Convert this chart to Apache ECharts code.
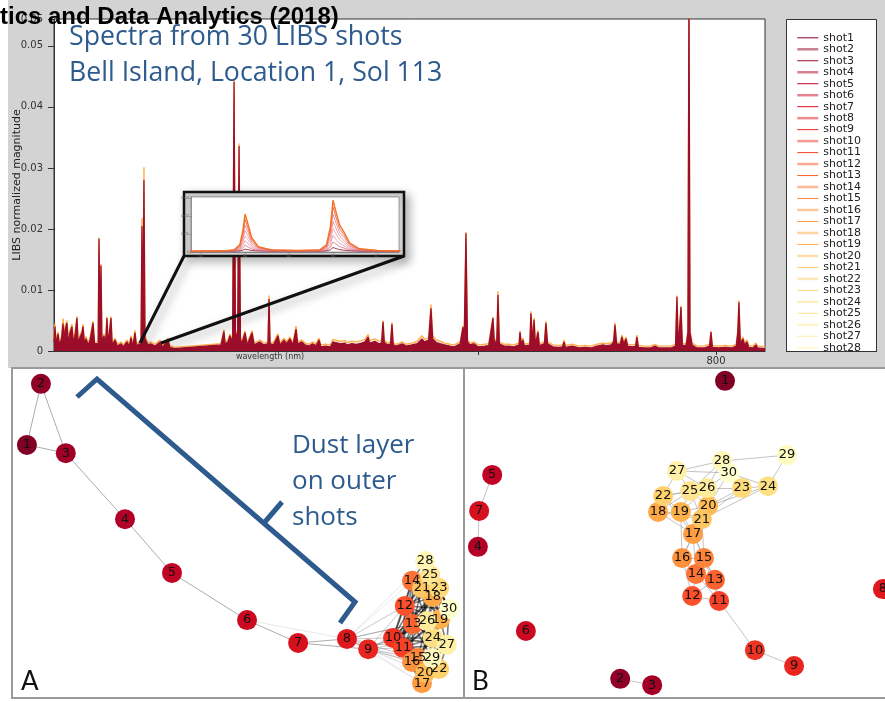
<!DOCTYPE html>
<html><head><meta charset="utf-8">
<script src="https://cdn.jsdelivr.net/npm/echarts@6/dist/echarts.min.js"></script>
<style>html,body{margin:0;padding:0;background:#fff}#c{width:885px;height:702px}</style>
</head><body><div id="c"></div>
<script>
// ---------------- DATA ----------------
const shotNames = ['shot1','shot2','shot3','shot4','shot5','shot6','shot7','shot8','shot9','shot10',
 'shot11','shot12','shot13','shot14','shot15','shot16','shot17','shot18','shot19','shot20',
 'shot21','shot22','shot23','shot24','shot25','shot26','shot27','shot28','shot29','shot30'];

const wavelengths = [243.7,244.5,245.5,247.1,248.3,250.0,251.3,252.3,253.0,254.6,
255.8,257.1,258.8,260.0,261.3,263.0,264.0,265.5,267.2,268.1,
269.3,270.6,272.5,274.0,276.5,277.8,279.0,280.8,281.5,282.3,
283.2,284.0,285.7,287.0,288.2,289.2,291.6,292.6,295.0,297.0,
300.0,302.0,305.0,307.0,308.4,310.0,311.8,313.0,315.1,316.8,
317.6,318.4,319.3,320.2,322.7,325.0,328.6,332.8,335.0,337.0,
339.5,341.0,345.0,384.0,386.5,387.5,389.9,391.5,393.8,395.0,
396.2,398.0,399.2,400.4,401.5,404.2,406.0,410.1,412.0,416.8,
420.0,423.5,424.4,425.3,428.0,431.9,433.5,437.0,439.0,442.0,
444.5,447.1,448.5,452.0,454.6,458.0,461.0,464.0,466.4,468.0,
472.0,476.0,478.2,480.0,484.0,488.0,490.0,494.0,498.0,502.0,
505.0,507.6,509.0,513.4,517.0,519.0,520.2,521.3,524.4,526.5,
527.7,528.8,531.1,534.0,536.1,540.0,544.5,549.0,552.9,555.0,
558.5,560.5,562.0,565.0,568.1,572.0,576.5,580.0,585.0,587.4,
588.4,589.9,591.2,593.3,596.6,600.0,605.9,609.0,610.5,612.6,
613.8,615.8,616.8,618.0,622.0,626.0,630.0,634.5,635.3,636.5,
637.8,639.0,643.5,644.5,645.8,647.1,648.3,650.4,651.6,655.8,
657.1,658.5,660.0,663.0,668.0,671.0,672.3,673.5,679.0,685.0,
690.0,695.0,700.0,705.0,708.0,712.0,714.0,715.1,716.5,719.5,
721.0,722.5,724.4,725.8,730.0,732.4,733.6,734.8,740.0,745.0,
748.7,752.0,757.0,762.0,766.0,767.2,768.4,769.6,770.6,771.8,
775.0,776.4,777.3,778.2,780.0,784.0,790.0,794.6,795.8,797.0,
802.0,808.0,813.0,817.0,818.3,819.3,820.5,822.7,824.0,826.1,
827.5,831.0,833.6,835.0,841.2];

const shot3Spectrum = [.0015,.0040,.0012,.0028,.0010,.0020,.0045,.0015,.0035,.0046,
.0012,.0030,.0040,.0014,.0025,.0054,.0013,.0022,.0030,.0040,
.0012,.0020,.0010,.0018,.0046,.0012,.0015,.0012,.0184,.0050,
.0140,.0015,.0025,.0012,.0054,.0012,.0054,.0010,.0018,.0008,
.0012,.0007,.0015,.0008,.0022,.0008,.0030,.0008,.0012,.0010,
.0205,.0060,.0280,.0020,.0010,.0012,.0008,.0015,.0006,.0012,
.0018,.0006,.0004,.0010,.0032,.0012,.0015,.0025,.0015,.0441,
.0030,.0025,.0336,.0020,.0012,.0030,.0010,.0030,.0010,.0015,
.0010,.0012,.0085,.0012,.0010,.0025,.0010,.0018,.0012,.0020,
.0010,.0036,.0012,.0015,.0010,.0008,.0012,.0009,.0018,.0007,
.0008,.0007,.0015,.0014,.0012,.0013,.0010,.0012,.0011,.0013,
.0015,.0023,.0013,.0016,.0012,.0014,.0048,.0014,.0010,.0012,
.0044,.0010,.0008,.0010,.0012,.0008,.0010,.0012,.0020,.0015,
.0018,.0070,.0020,.0014,.0012,.0010,.0008,.0007,.0012,.0039,
.0020,.0193,.0015,.0010,.0012,.0007,.0008,.0009,.0012,.0054,
.0012,.0018,.0092,.0012,.0008,.0008,.0007,.0010,.0031,.0010,
.0018,.0008,.0010,.0062,.0015,.0051,.0010,.0031,.0009,.0012,
.0046,.0012,.0010,.0007,.0006,.0007,.0015,.0006,.0008,.0005,
.0006,.0005,.0008,.0010,.0009,.0010,.0015,.0043,.0012,.0011,
.0023,.0012,.0020,.0008,.0007,.0008,.0023,.0006,.0005,.0005,
.0008,.0005,.0005,.0005,.0008,.0089,.0008,.0010,.0072,.0008,
.0010,.0030,.0600,.0030,.0010,.0005,.0005,.0008,.0031,.0006,
.0005,.0006,.0005,.0008,.0030,.0080,.0012,.0020,.0010,.0015,
.0006,.0005,.0010,.0005,.0004];

const shot19Spectrum = [.0019,.0045,.0016,.0031,.0014,.0024,.0053,.0018,.0040,.0050,
.0016,.0034,.0044,.0018,.0029,.0057,.0016,.0026,.0033,.0044,
.0015,.0024,.0013,.0022,.0049,.0015,.0018,.0015,.0186,.0053,
.0142,.0018,.0028,.0015,.0056,.0015,.0057,.0013,.0021,.0011,
.0015,.0010,.0018,.0011,.0025,.0011,.0034,.0011,.0015,.0013,
.0218,.0066,.0301,.0024,.0013,.0015,.0011,.0018,.0009,.0015,
.0021,.0009,.0006,.0012,.0035,.0015,.0018,.0028,.0018,.0446,
.0034,.0028,.0340,.0024,.0015,.0033,.0013,.0033,.0013,.0018,
.0013,.0015,.0091,.0015,.0013,.0028,.0013,.0021,.0015,.0023,
.0013,.0041,.0015,.0018,.0013,.0011,.0015,.0012,.0021,.0010,
.0011,.0010,.0019,.0018,.0016,.0017,.0014,.0016,.0015,.0017,
.0019,.0027,.0017,.0020,.0016,.0018,.0050,.0017,.0013,.0015,
.0047,.0013,.0011,.0013,.0015,.0011,.0013,.0016,.0025,.0019,
.0022,.0076,.0024,.0018,.0016,.0013,.0011,.0010,.0015,.0041,
.0023,.0195,.0018,.0013,.0015,.0010,.0011,.0012,.0015,.0056,
.0015,.0021,.0098,.0015,.0011,.0011,.0010,.0013,.0033,.0013,
.0021,.0011,.0013,.0065,.0018,.0054,.0013,.0034,.0012,.0015,
.0049,.0015,.0013,.0010,.0009,.0010,.0018,.0009,.0011,.0008,
.0009,.0008,.0011,.0013,.0012,.0013,.0018,.0046,.0015,.0014,
.0026,.0015,.0023,.0011,.0010,.0011,.0026,.0009,.0008,.0008,
.0011,.0008,.0008,.0008,.0011,.0091,.0011,.0013,.0074,.0011,
.0013,.0033,.0600,.0033,.0013,.0008,.0008,.0011,.0033,.0009,
.0008,.0009,.0008,.0011,.0033,.0083,.0015,.0023,.0013,.0018,
.0009,.0008,.0013,.0008,.0007];

const xTickValues = [600, 800];
const xLabelValues = [800];

// inset (zoom on two lines)
const insetX = [82.75,83.5,83.75,83.88,83.95,84.0,84.06,84.15,84.3,84.6,85.2,85.7,85.85,85.94,86.0,86.07,86.15,86.25,86.38,86.6,87.0,87.55];
const insetA = [.0004,.0006,.0012,.0040,.0120,.0211,.0160,.0080,.0030,.0012,.0008,.0012,.0040,.0140,.0289,.0220,.0150,.0110,.0050,.0018,.0009,.0006];
const insetB = [.0004,.0006,.0011,.0034,.0102,.0180,.0137,.0068,.0026,.0011,.0008,.0011,.0034,.0120,.0250,.0190,.0130,.0095,.0043,.0016,.0008,.0006];
const insetC = [.0004,.0005,.0010,.0028,.0085,.0150,.0114,.0057,.0022,.0010,.0007,.0010,.0028,.0100,.0210,.0160,.0109,.0080,.0036,.0014,.0008,.0005];
const insetD = [.0004,.0005,.0009,.0023,.0068,.0120,.0091,.0046,.0018,.0009,.0007,.0009,.0023,.0080,.0170,.0129,.0088,.0064,.0030,.0012,.0007,.0005];
const insetE = [.0003,.0005,.0008,.0018,.0051,.0090,.0069,.0035,.0014,.0008,.0006,.0008,.0018,.0060,.0130,.0099,.0068,.0049,.0023,.0010,.0006,.0005];
const insetF = [.0003,.0004,.0007,.0013,.0036,.0063,.0048,.0025,.0011,.0007,.0006,.0007,.0013,.0042,.0092,.0070,.0048,.0035,.0017,.0009,.0006,.0004];
const insetG = [.0003,.0004,.0006,.0009,.0022,.0038,.0029,.0016,.0008,.0006,.0005,.0006,.0009,.0026,.0056,.0043,.0030,.0022,.0011,.0007,.0005,.0004];
const insetH = [.0003,.0004,.0005,.0006,.0010,.0016,.0013,.0008,.0006,.0005,.0005,.0005,.0006,.0012,.0025,.0019,.0013,.0010,.0007,.0005,.0004,.0004];
const insetTicks = [83, 84, 85, 86, 87];

// network graphs (layout coordinates, 0-100)
const nodeIds = ['1','2','3','4','5','6','7','8','9','10','11','12','13','14','15','16','17','18','19','20','21','22','23','24','25','26','27','28','29','30'];
const layoutAx = [3.3,6.4,11.9,25.0,35.4,52.0,63.3,74.1,78.8,84.3,86.5,86.9,88.7,88.5,89.8,88.5,90.7,93.1,94.7,91.4,90.7,94.5,94.5,93.1,92.5,91.8,96.2,91.4,92.9,96.7];
const layoutAy = [76.7,95.2,74.2,54.2,37.9,23.6,16.7,17.9,14.8,18.2,15.2,27.9,22.4,35.5,12.1,10.9,4.5,30.6,23.9,7.6,33.3,8.8,33.3,18.2,37.3,23.3,16.1,41.5,12.1,27.0];
const layoutBx = [62.0,37.1,44.7,3.3,6.7,14.7,3.6,99.5,78.4,69.1,60.6,54.2,59.6,55.1,57.0,51.8,54.4,46.1,51.5,58.0,56.5,47.3,66.0,72.2,53.7,57.7,50.6,61.3,76.7,62.9];
const layoutBy = [96.1,5.8,3.9,45.8,67.6,20.3,56.7,33.0,9.7,14.5,29.4,30.9,35.8,37.6,42.4,42.4,49.7,56.4,56.4,58.2,54.2,61.2,63.6,64.2,62.7,63.6,68.8,71.8,73.6,68.2];

const edgesAChain = [[1,2],[1,3],[2,3],[3,4],[4,5],[5,6],[6,7],[7,8],[7,9],[8,9]];
const edgesAWeak = [[6,8],[8,14],[8,16],[8,17],[9,17],[9,20],[8,20],[8,28],[9,22]];
const edgesALink = [[8,10],[8,11],[8,12],[8,13],[8,15],[9,10],[9,11],[9,12],[9,13],[9,15],[9,16],[9,24],[9,26],[9,19],[8,26]];
const clusterAdjA = [
 [10,[11,12,13,14,15,16,17,18,19,20,21,23,24,26,27,29,30]],
 [11,[12,13,14,15,16,17,18,19,20,22,24,26,27,29,30]],
 [12,[13,14,18,19,21,23,24,25,26,27,30]],
 [13,[14,16,18,19,21,23,24,26,27,29,30]],
 [14,[18,19,21,23,25,26,28,30]],
 [15,[16,17,19,20,22,24,26,27,29]],
 [16,[17,20,22,24,27,29]],
 [17,[20,22,24,29]],
 [18,[19,21,23,25,26,28,30]],
 [19,[21,23,24,25,26,27,30]],
 [20,[22,24,27,29]],
 [21,[23,25,26,28,30]],
 [22,[24,27,29]],
 [23,[25,26,28,30]],
 [24,[26,27,29,30]],
 [25,[28,30]],
 [26,[27,30]],
 [27,[29,30]],
 [28,[30]]
];
const edgesB = [[2,3],[5,7],[7,4],[9,10],[10,11],
 [11,12],[11,13],[11,14],[11,15],[12,13],[12,14],[12,16],[13,14],[13,15],[13,17],[14,15],[14,16],[14,17],
 [15,16],[15,17],[15,21],[16,17],[16,19],[16,21],[17,18],[17,19],[17,20],[17,21],[17,22],[18,19],[18,22],
 [18,25],[18,21],[19,20],[19,21],[19,22],[19,25],[19,26],[20,21],[20,23],[20,26],[20,25],[20,30],[20,24],
 [21,25],[21,26],[21,23],[22,25],[22,27],[22,26],[23,24],[23,26],[23,28],[23,30],[24,29],[24,30],[25,26],
 [25,27],[25,28],[26,27],[26,28],[26,30],[27,28],[27,30],[28,29],[28,30],[21,24]];

// ---------------- STYLE ----------------
const stops = ['#800026','#bd0026','#e31a1c','#fc4e2a','#fd8d3c','#feb24c','#fed976','#ffeda0','#ffffcc'];
function hex(c){return [1,3,5].map(k=>parseInt(c.substr(k,2),16));}
function shotColor(i){
  const t = (i-1)/29*(stops.length-1);
  const k = Math.min(Math.floor(t), stops.length-2), f = t-k;
  const a = hex(stops[k]), b = hex(stops[k+1]);
  return 'rgb(' + a.map((v,j)=>Math.round(v+(b[j]-v)*f)).join(',') + ')';
}
const FONT = 'DejaVu Sans';
const BLUE = '#2e5b8e';

const spectraData = {shot3: shot3Spectrum, shot19: shot19Spectrum};
const shotSeries = shotNames.map((nm, k) => {
  const i = k+1, col = shotColor(i), vals = spectraData[nm];
  const s = {
    type:'line', name:nm, xAxisIndex:0, yAxisIndex:0, symbol:'none', showSymbol:false,
    data: vals ? wavelengths.map((w,j)=>[w, vals[j]]) : [],
    lineStyle:{color:col, width: i%2 ? 1 : 3, opacity: i%2 ? 1 : 0.45},
    itemStyle:{color:col}, z: nm==='shot3' ? 3 : 2, emphasis:{disabled:true}
  };
  if (nm === 'shot3') { s.lineStyle = {color:'#9c0d2c', width:1.2}; s.areaStyle = {color:'#9c0d2c', opacity:1}; }
  if (nm === 'shot19') { s.lineStyle = {color:'#fdae48', width:1.4}; }
  return s;
});
const legendData = shotNames.map((nm,k)=>({name:nm, lineStyle:{width:(k%2)?2.5:1, opacity:(k%2)?0.5:1}}));

const insetColors = ['#8e1232','rgba(200,60,90,0.75)','rgba(215,110,135,0.75)','rgba(225,125,145,0.75)','rgba(230,115,130,0.8)','rgba(232,95,105,0.8)','#ec4c32','#f47221'];
const insetSets = [insetH, insetG, insetF, insetE, insetD, insetC, insetB, insetA];
const insetSeries = insetSets.map((arr,k)=>({
  type:'line', name:'inset'+k, xAxisIndex:1, yAxisIndex:1, symbol:'none', z:8,
  data: insetX.map((x,j)=>[x, arr[j]]),
  lineStyle:{color:insetColors[k], width: k===7 ? 1.4 : 0.8}, emphasis:{disabled:true}
}));

function nodes(xs, ys){
  return nodeIds.map((id,k)=>({name:id, value:[xs[k], ys[k]], itemStyle:{color:shotColor(k+1)}}));
}
function links(list, style){ return list.map(([s,t])=>({source:s-1, target:t-1, lineStyle:style})); }
const clusterEdgesA = [];
clusterAdjA.forEach(([s, ts]) => ts.forEach(t => clusterEdgesA.push([s,t])));
const linksA = [].concat(
  links(edgesAWeak, {color:'#c8c8c8', width:0.8}),
  links(edgesALink, {color:'#777', width:0.8}),
  links(edgesAChain, {color:'#444', width:0.9}),
  links(clusterEdgesA, {color:'#000', width:1.6})
);
const linksB = links(edgesB, {color:'#9a9a9a', width:0.8, opacity:0.75});
const graphBase = {
  type:'graph', coordinateSystem:'cartesian2d', symbol:'circle', symbolSize:20, z:3,
  label:{show:true, position:'inside', color:'#111', fontSize:13, fontFamily:FONT},
  emphasis:{disabled:true}, roam:false
};

// ---------------- CHART ----------------
const chart = echarts.init(document.getElementById('c'), null, {renderer:'canvas'});
chart.setOption({
  animation:false,
  backgroundColor:'#fff',
  grid:[
    {left:54, top:19, width:711, height:332, show:true, backgroundColor:'#fff', borderColor:'#333', borderWidth:1, outerBoundsMode:'none', containLabel:false},
    {left:191, top:197, width:208, height:55, show:true, backgroundColor:'#fff', borderColor:'#666', borderWidth:0.6, z:6, outerBoundsMode:'none'},
    {left:12, top:368, width:452, height:330, outerBoundsMode:'none'},
    {left:464, top:368, width:421, height:330, outerBoundsMode:'none'}
  ],
  xAxis:[
    {type:'value', gridIndex:0, min:243.7, max:841.2, splitLine:{show:false},
     axisLine:{lineStyle:{color:'#333'}},
     axisTick:{customValues:xTickValues, length:4, lineStyle:{color:'#333'}},
     axisLabel:{customValues:xLabelValues, fontSize:10, color:'#333', fontFamily:FONT, margin:5}},
    {type:'value', gridIndex:1, min:82.77, max:87.5, splitLine:{show:false}, z:7,
     axisLine:{lineStyle:{color:'#666', width:0.6}},
     axisTick:{customValues:insetTicks, length:1.5, lineStyle:{color:'#666', width:0.6}},
     axisLabel:{customValues:insetTicks, fontSize:4, color:'#666', margin:1.5}},
    {type:'value', gridIndex:2, min:0, max:100, show:false},
    {type:'value', gridIndex:3, min:0, max:100, show:false}
  ],
  yAxis:[
    {type:'value', gridIndex:0, min:0, max:0.0544, interval:0.01, splitLine:{show:false},
     axisLine:{show:true, lineStyle:{color:'#333'}},
     axisTick:{length:6, lineStyle:{color:'#333'}},
     axisLabel:{fontSize:10, color:'#333', fontFamily:FONT, margin:11, formatter:v=> v===0 ? '0' : v.toFixed(2)},
     name:'LIBS normalized magnitude', nameLocation:'middle', nameGap:31, nameRotate:90, nameMoveOverlap:false,
     nameTextStyle:{fontSize:11, color:'#222', fontFamily:FONT}},
    {type:'value', gridIndex:1, min:0, max:0.0306, interval:0.01, splitLine:{show:false}, z:7,
     axisLine:{show:true, lineStyle:{color:'#666', width:0.6}},
     axisTick:{length:1.5, lineStyle:{color:'#666', width:0.6}},
     axisLabel:{fontSize:4, color:'#666', margin:2, formatter:v=> v===0 ? '0' : v.toFixed(2)}},
    {type:'value', gridIndex:2, min:0, max:100, show:false},
    {type:'value', gridIndex:3, min:0, max:100, show:false}
  ],
  legend:{
    orient:'vertical', left:796, top:32.3, padding:0, itemWidth:21, itemHeight:10, itemGap:0.48,
    selectedMode:false, data:legendData, itemStyle:{opacity:0},
    textStyle:{fontFamily:FONT, fontSize:11, color:'#222', lineHeight:10}
  },
  series: shotSeries.concat(insetSeries, [
    Object.assign({}, graphBase, {xAxisIndex:2, yAxisIndex:2, data:nodes(layoutAx, layoutAy), links:linksA}),
    Object.assign({}, graphBase, {xAxisIndex:3, yAxisIndex:3, data:nodes(layoutBx, layoutBy), links:linksB})
  ]),
  graphic:[
    // backgrounds
    {type:'rect', z:-5, shape:{x:8, y:0, width:877, height:368}, style:{fill:'#d3d3d3'}},
    {type:'rect', z:-4, shape:{x:786.5, y:19.5, width:90, height:332}, style:{fill:'#fff', stroke:'#333', lineWidth:1}},
    {type:'rect', z:-4, shape:{x:12, y:368, width:452, height:330}, style:{fill:'#fff', stroke:'#9a9a9a', lineWidth:2}},
    {type:'rect', z:-4, shape:{x:464, y:368, width:430, height:330}, style:{fill:'#fff', stroke:'#9a9a9a', lineWidth:2}},
    // legend clip
    {type:'rect', z:10, shape:{x:780, y:352, width:105, height:15}, style:{fill:'#d3d3d3'}},
    {type:'rect', z:10, shape:{x:780, y:369, width:105, height:14}, style:{fill:'#fff'}},
    {type:'line', z:10, shape:{x1:780, y1:368, x2:885, y2:368}, style:{stroke:'#9a9a9a', lineWidth:2}},
    {type:'line', z:10, shape:{x1:786, y1:351.5, x2:877, y2:351.5}, style:{stroke:'#333', lineWidth:1}},
    // inset callout
    {type:'line', z:5, shape:{x1:184, y1:256, x2:140, y2:343}, style:{stroke:'#111', lineWidth:3, shadowBlur:10, shadowColor:'rgba(0,0,0,0.35)', shadowOffsetX:4, shadowOffsetY:4}},
    {type:'line', z:5, shape:{x1:404, y1:256, x2:161, y2:343}, style:{stroke:'#111', lineWidth:3, shadowBlur:10, shadowColor:'rgba(0,0,0,0.35)', shadowOffsetX:4, shadowOffsetY:4}},
    {type:'rect', z:5, shape:{x:184, y:192, width:220, height:64}, style:{fill:'#d6d6d6', stroke:'#111', lineWidth:2.5, shadowBlur:10, shadowColor:'rgba(0,0,0,0.3)', shadowOffsetX:4, shadowOffsetY:4}},
    // texts
    {type:'text', z:10, x:0, y:17, style:{text:'tics and Data Analytics (2018)', font:'bold 24px "Liberation Sans", Arial', fill:'#000', textVerticalAlign:'middle'}},
    {type:'text', z:10, x:69, y:37, style:{text:'Spectra from 30 LIBS shots', font:'26.7px "Open Sans"', fill:BLUE, textVerticalAlign:'middle'}},
    {type:'text', z:10, x:69, y:73, style:{text:'Bell Island, Location 1, Sol 113', font:'26.7px "Open Sans"', fill:BLUE, textVerticalAlign:'middle'}},
    {type:'text', z:10, x:270, y:357, style:{text:'wavelength (nm)', font:'8px "DejaVu Sans"', fill:'#333', textAlign:'center', textVerticalAlign:'middle'}},
    {type:'text', z:10, x:292, y:446, style:{text:'Dust layer', font:'26px "Open Sans"', fill:BLUE, textVerticalAlign:'middle'}},
    {type:'text', z:10, x:292, y:482, style:{text:'on outer', font:'26px "Open Sans"', fill:BLUE, textVerticalAlign:'middle'}},
    {type:'text', z:10, x:292, y:518, style:{text:'shots', font:'26px "Open Sans"', fill:BLUE, textVerticalAlign:'middle'}},
    {type:'text', z:10, x:21, y:682, style:{text:'A', font:'26px Lato', fill:'#111', textVerticalAlign:'middle'}},
    {type:'text', z:10, x:472, y:682, style:{text:'B', font:'26px Lato', fill:'#111', textVerticalAlign:'middle'}},
    // bracket
    {type:'polyline', z:5, shape:{points:[[77,397],[97,379],[355,602],[340,623]]}, style:{stroke:BLUE, lineWidth:5, fill:null, lineJoin:'miter'}},
    {type:'polyline', z:5, shape:{points:[[264,523],[282,502]]}, style:{stroke:BLUE, lineWidth:5, fill:null}}
  ]
});
</script></body></html>
